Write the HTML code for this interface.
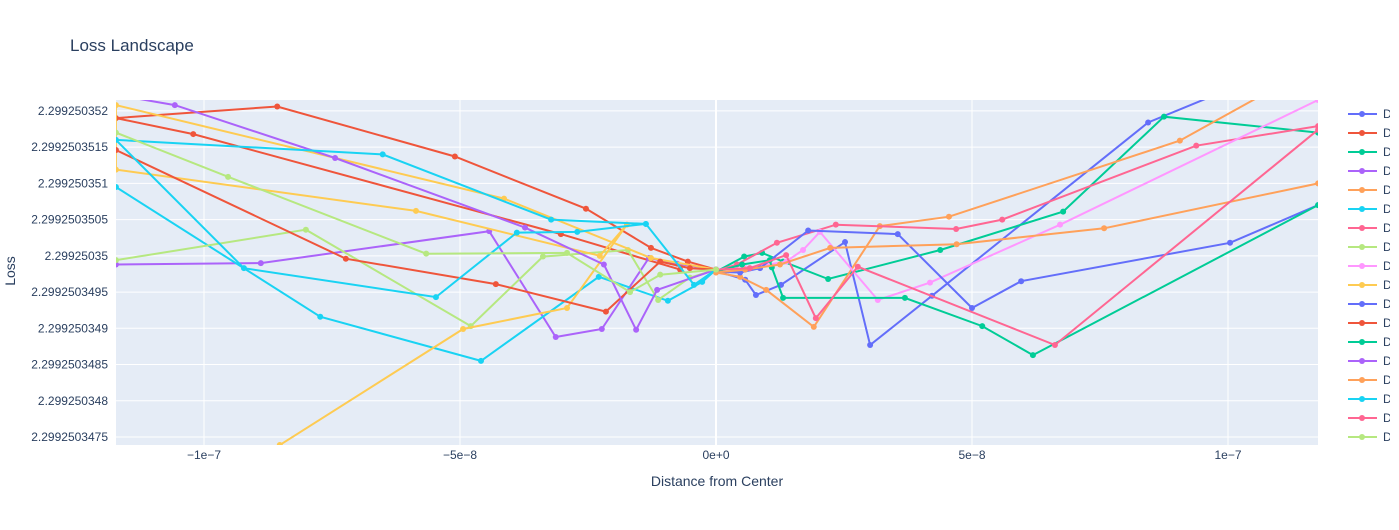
<!DOCTYPE html>
<html><head><meta charset="utf-8"><title>Loss Landscape</title>
<style>
body{margin:0;background:#fff;font-family:"Liberation Sans",sans-serif}
svg text{font-family:"Liberation Sans",sans-serif;fill:#2a3f5f}
</style></head>
<body>
<svg id="chart" width="1399" height="525" xmlns="http://www.w3.org/2000/svg">
<rect width="1399" height="525" fill="#fff"/>
<text x="70" y="51" font-size="17">Loss Landscape</text>
<rect x="116" y="100" width="1202" height="345" fill="#e5ecf6"/>
<g id="grid"></g>
<defs><clipPath id="clip"><rect x="116" y="100" width="1202" height="345"/></clipPath>
<clipPath id="legclip"><rect x="1340" y="95" width="50" height="360"/></clipPath></defs>
<g id="series" clip-path="url(#clip)"></g>
<g id="axes"></g>
<text x="717" y="486" font-size="14" text-anchor="middle">Distance from Center</text>
<text transform="translate(15,271) rotate(-90)" font-size="14" text-anchor="middle">Loss</text>
<g id="legend" clip-path="url(#legclip)"></g>
</svg>
<script>
// x in units of 1e-9, y as loss offset from 2.29925035 in units of 1e-10
const colors=["#636efa","#EF553B","#00cc96","#ab63fa","#FFA15A","#19d3f3","#FF6692","#B6E880","#FF97FF","#FECB52"];
const xTicks=[-100,-50,0,50,100];
const xTickLabels=["−1e−7","−5e−8","0e+0","5e−8","1e−7"];
const yTicks=[20,15,10,5,0,-5,-10,-15,-20,-25];
const yTickLabels=["2.299250352","2.2992503515","2.299250351","2.2992503505","2.29925035","2.2992503495","2.299250349","2.2992503485","2.299250348","2.2992503475"];
const seriesNames=["Direction 1","Direction 2","Direction 3","Direction 4","Direction 5","Direction 6","Direction 7","Direction 8","Direction 9","Direction 10","Direction 11","Direction 12","Direction 13","Direction 14","Direction 15","Direction 16","Direction 17","Direction 18"];
const xs1=[0,5.7,7.8,12.7,25.2,30.1,42.2,84.4,102.3];
const ys1=[-2.1,-3.3,-5.4,-4.0,1.9,-12.3,-5.5,18.4,23.6];
const xs2=[0,-5.5,-12.7,-25.4,-51.0,-85.7,-117.2,-102.1,-30.3,-7.0];
const ys2=[-1.9,-0.8,1.1,6.5,13.7,20.6,19.0,16.8,3.0,-1.9];
const xs3=[0,5.5,9.0,13.1,21.9,43.8,67.8,87.5,117.6];
const ys3=[-2.2,-0.1,0.4,-0.8,-3.2,0.8,6.1,19.2,17.0];
const xs4=[0,-7.6,-13.1,-22.3,-31.3,-44.3,-88.9,-117.2];
const ys4=[-1.9,-1.1,-0.3,-10.1,-11.2,3.4,-1.0,-1.2];
const xs5=[0,4.7,9.8,19.1,32.0,45.5,90.6,112.1];
const ys5=[-2.3,-2.9,-4.7,-9.8,4.1,5.4,15.9,24.3];
const xs6=[0,-2.7,-9.4,-22.9,-45.9,-77.3,-117.2];
const ys6=[-1.9,-3.6,-6.2,-2.9,-14.5,-8.4,9.5];
const xs7=[0,4.1,11.9,23.4,46.9,55.9,93.8,117.6];
const ys7=[-2.1,-1.2,1.8,4.3,3.7,5.0,15.2,17.9];
const xs8=[0,-5.1,-11.3,-17.2,-33.8,-47.9,-80.1,-117.2];
const ys8=[-1.9,-3.0,-6.1,0.8,-0.1,-9.7,3.6,-0.6];
const xs9=[0,5.7,13.7,17.0,20.3,31.6,41.8,67.2,117.6];
const ys9=[-1.9,-1.7,-0.8,0.8,3.3,-6.1,-3.7,4.3,21.5];
const xs10=[0,-12.7,-41.4,-117.2,-117.2,-58.6,-22.7,-17.4,-29.1,-49.4,-85.2,-93.0];
const ys10=[-1.9,-0.3,7.9,20.8,11.9,6.2,0,4.3,-7.2,-10.1,-26.1,-30.9];
const xs11=[0,4.7,8.6,18.0,35.5,50.0,59.6,100.4,117.6];
const ys11=[-2.2,-2.3,-1.7,3.5,3.0,-7.2,-3.5,1.8,7.0];
const xs12=[0,-5.1,-10.9,-21.5,-43.0,-72.3,-117.2];
const ys12=[-1.9,-1.7,-0.8,-7.7,-3.9,-0.4,14.6];
const xs13=[0,5.1,10.5,10.9,13.1,36.9,52.0,61.9,117.6];
const ys13=[-2.2,-1.2,-0.6,-1.6,-5.8,-5.8,-9.7,-13.7,7.0];
const xs14=[0,-11.5,-15.6,-21.9,-37.3,-74.4,-105.7,-117.2];
const ys14=[-1.9,-4.7,-10.2,-1.2,3.9,13.5,20.8,22.2];
const xs15=[0,5.7,12.5,22.3,47.0,75.8,117.6];
const ys15=[-2.3,-1.9,-1.2,1.1,1.6,3.8,10.0];
const xs16=[0,-4.3,-13.7,-27.1,-38.9,-54.7,-92.2,-117.2,-65.1,-32.2,-13.7];
const ys16=[-1.9,-4.0,4.4,3.3,3.2,-5.7,-1.7,16.0,14.0,5.0,4.4];
const xs17=[0,6.6,13.7,19.5,27.7,66.2,117.6];
const ys17=[-1.9,-1.7,0.1,-8.6,-1.5,-12.3,17.4];
const xs18=[0,-10.9,-16.8,-29.1,-56.6,-95.3,-117.2];
const ys18=[-1.9,-2.6,-5.0,0.4,0.3,10.9,17.0];
const allX=[xs1,xs2,xs3,xs4,xs5,xs6,xs7,xs8,xs9,xs10,xs11,xs12,xs13,xs14,xs15,xs16,xs17,xs18];
const allY=[ys1,ys2,ys3,ys4,ys5,ys6,ys7,ys8,ys9,ys10,ys11,ys12,ys13,ys14,ys15,ys16,ys17,ys18];

const NS="http://www.w3.org/2000/svg";
const X0=116,X1=1318,Y0=100,Y1=445;
const xMin=-117.19,xMax=117.58,yMin=-26.1,yMax=21.5;
function sx(v){return X0+(v-xMin)/(xMax-xMin)*(X1-X0);}
function sy(v){return Y1-(v-yMin)/(yMax-yMin)*(Y1-Y0);}
function mk(tag,attrs,parent){const e=document.createElementNS(NS,tag);for(const k in attrs)e.setAttribute(k,attrs[k]);parent.appendChild(e);return e;}
const grid=document.getElementById('grid'),axes=document.getElementById('axes'),ser=document.getElementById('series'),leg=document.getElementById('legend');
yTicks.forEach((t,i)=>{
  const l=mk('line',{x1:X0,x2:X1,y1:sy(t),y2:sy(t),stroke:'#fff','stroke-width':1},grid);
  
  
  const tx=mk('text',{x:108,y:sy(t)+4,'font-size':12,'text-anchor':'end'},axes);
  tx.textContent=yTickLabels[i];
  
  
});
xTicks.forEach((t,i)=>{
  const l=mk('line',{x1:sx(t),x2:sx(t),y1:Y0,y2:Y1,stroke:'#fff','stroke-width':t===0?2:1},grid);
  
  
  const tx=mk('text',{x:sx(t),y:459,'font-size':12,'text-anchor':'middle'},axes);
  tx.textContent=xTickLabels[i];
  
  
});
allX.forEach((xa,i)=>{
  const ya=allY[i],c=colors[i%10];
  const g=mk('g',{},ser);
  
  
  const pts=xa.map((x,j)=>sx(x).toFixed(1)+','+sy(ya[j]).toFixed(1)).join(' ');
  const pl=mk('polyline',{points:pts,fill:'none',stroke:c,'stroke-width':2},g);
  
  
  xa.forEach((x,j)=>{
    const p=mk('circle',{cx:sx(x),cy:sy(ya[j]),r:3,fill:c},g);
    
    
  });
  const ly=114+i*19;
  const le=mk('g',{},leg);
  
  
  mk('line',{x1:1348,x2:1377,y1:ly,y2:ly,stroke:c,'stroke-width':2},le);
  mk('circle',{cx:1362,cy:ly,r:3,fill:c},le);
  const t=mk('text',{x:1383,y:ly+4,'font-size':12},le);
  t.textContent=seriesNames[i];
});
</script>
</body></html>
